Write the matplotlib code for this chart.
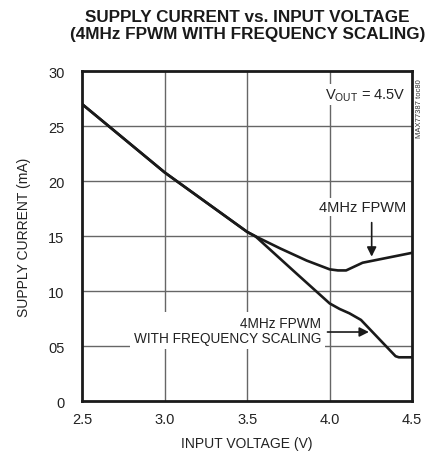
import matplotlib
matplotlib.use('Agg')
import matplotlib.pyplot as plt

# ==================== 字体设置 ====================
plt.rcParams['font.family'] = ['Liberation Sans', 'DejaVu Sans']
plt.rcParams['mathtext.fontset'] = 'custom'
plt.rcParams['mathtext.rm'] = 'Liberation Sans'

# ==================== 数据 ====================
fpwm_v = [2.5, 3.0, 3.5, 3.55, 3.7, 3.86, 4.0, 4.05, 4.1, 4.2, 4.5]
fpwm_i = [27.0, 20.8, 15.4, 15.0, 13.9, 12.8, 12.0, 11.9, 11.9, 12.6, 13.5]

scal_v = [2.5, 3.0, 3.5, 3.55, 3.8, 4.0, 4.06, 4.12, 4.19, 4.4, 4.42, 4.5]
scal_i = [27.0, 20.8, 15.4, 15.0, 11.6, 8.9, 8.4, 8.0, 7.4, 4.1, 4.0, 4.0]

x_ticks = [2.5, 3.0, 3.5, 4.0, 4.5]
x_labels = ['2.5', '3.0', '3.5', '4.0', '4.5']
y_ticks = [0, 5, 10, 15, 20, 25, 30]
y_labels = ['0', '05', '10', '15', '20', '25', '30']

# ==================== 绘图 ====================
fig = plt.figure(figsize=(4.27, 4.64), dpi=100)
ax = fig.add_axes([0.193, 0.133, 0.772, 0.711])

for v in x_ticks[1:-1]:
    ax.axvline(v, color='#666666', linewidth=1.0, zorder=1)
for c in y_ticks[1:-1]:
    ax.axhline(c, color='#666666', linewidth=1.0, zorder=1)

ax.plot(fpwm_v, fpwm_i, color='#1a1a1a', linewidth=1.9, zorder=3)
ax.plot(scal_v, scal_i, color='#1a1a1a', linewidth=1.9, zorder=3)

ax.set_xlim(2.5, 4.5)
ax.set_ylim(0, 30)
ax.set_xticks(x_ticks)
ax.set_xticklabels(x_labels)
ax.set_yticks(y_ticks)
ax.set_yticklabels(y_labels)
ax.tick_params(axis='both', length=0, labelsize=10.5, colors='#222222')
ax.tick_params(axis='x', pad=8)
ax.tick_params(axis='y', pad=13)
for s in ax.spines.values():
    s.set_linewidth(2.0)
    s.set_color('#1a1a1a')

ax.set_xlabel('INPUT VOLTAGE (V)', fontsize=10, color='#222222', labelpad=7)
ax.set_ylabel('SUPPLY CURRENT (mA)', fontsize=10, color='#222222', labelpad=12)

fig.text(0.579, 0.962, 'SUPPLY CURRENT vs. INPUT VOLTAGE', ha='center', va='center',
         fontsize=12.3, fontweight='bold', color='#1a1a1a')
fig.text(0.579, 0.925, '(4MHz FPWM WITH FREQUENCY SCALING)', ha='center', va='center',
         fontsize=12.3, fontweight='bold', color='#1a1a1a')

# 标注
bb = dict(facecolor='white', edgecolor='none', pad=1.5)
ax.text(4.46, 27.9, r'V$_{\mathrm{OUT}}$ = 4.5V', ha='right', va='center',
        fontsize=10.5, color='#222222', bbox=bb, zorder=4)
ax.text(4.2, 17.7, '4MHz FPWM', ha='center', va='center',
        fontsize=10.5, color='#222222', bbox=bb, zorder=4)
ax.annotate('', xy=(4.255, 12.9), xytext=(4.255, 16.5),
            arrowprops=dict(arrowstyle='-|>', color='#1a1a1a', lw=1.2,
                            mutation_scale=14), zorder=5)
ax.text(3.95, 6.45, '4MHz FPWM\nWITH FREQUENCY SCALING', ha='right', va='center',
        fontsize=9.8, color='#222222', linespacing=1.15, multialignment='right',
        bbox=dict(facecolor='white', edgecolor='none', pad=2.5), zorder=4)
ax.annotate('', xy=(4.255, 6.3), xytext=(3.97, 6.3),
            arrowprops=dict(arrowstyle='-|>', color='#1a1a1a', lw=1.2,
                            mutation_scale=14), zorder=5)

fig.text(0.983, 0.765, 'MAX77387 toc80', rotation=90, ha='center', va='center',
         fontsize=5.5, color='#333333')

fig.savefig('out.png', dpi=100)
